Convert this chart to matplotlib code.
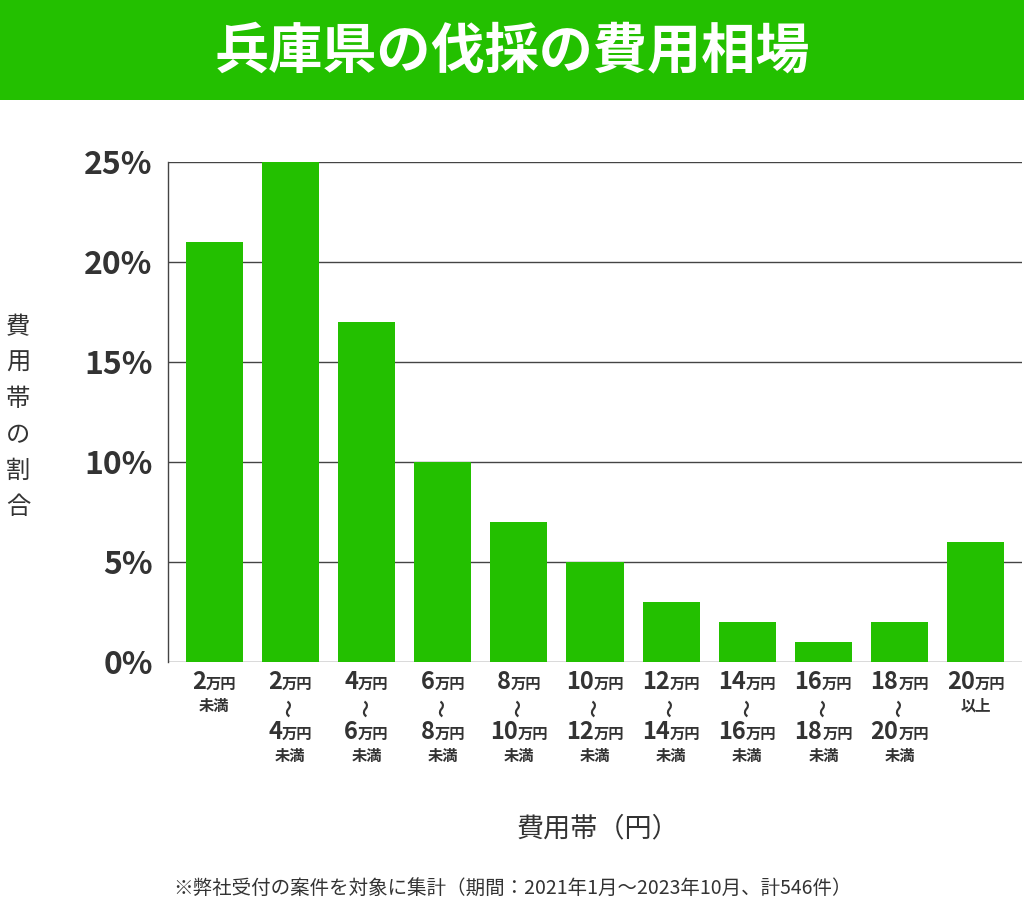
import matplotlib
matplotlib.use('Agg')
import matplotlib.pyplot as plt
from matplotlib.patches import Rectangle
from matplotlib.offsetbox import TextArea, HPacker, VPacker, AnnotationBbox

plt.rcParams['font.family'] = ['Noto Sans CJK JP', 'DejaVu Sans']

# データ
values = [21, 25, 17, 10, 7, 5, 3, 2, 1, 2, 6]
lo = ['2', '2', '4', '6', '8', '10', '12', '14', '16', '18', '20']
hi = [None, '4', '6', '8', '10', '12', '14', '16', '18', '20', None]
suffix = ['未満', '未満', '未満', '未満', '未満', '未満', '未満', '未満', '未満', '未満', '以上']
yticks = [0, 5, 10, 15, 20, 25]

green = '#23c000'
dark = '#333333'

fig = plt.figure(figsize=(10.24, 9.07), dpi=100)
fig.patches.append(Rectangle((0, 1 - 100/907), 1, 100/907, transform=fig.transFigure,
                             facecolor=green, edgecolor='none', zorder=0))
fig.text(0.5, 1 - 52/907, '兵庫県の伐採の費用相場', color='white', fontsize=39,
         fontweight='bold', ha='center', va='center')

ax = fig.add_axes([168/1024, 245/907, 854/1024, 500/907])
x = list(range(len(values)))
ax.bar(x, values, width=0.75, color=green, zorder=2)
ax.set_xlim(-0.605, len(values) - 1 + 0.605)
ax.set_ylim(0, 25)
ax.set_yticks(yticks)
ax.set_yticklabels([f'{v}%' for v in yticks], fontsize=23, fontweight='bold', color=dark)
ax.tick_params(axis='y', length=0, pad=11)
ax.tick_params(axis='x', length=0, labelbottom=False)
for v in yticks:
    ax.axhline(v, color='#444444', lw=1, zorder=1)
for s in ['top', 'right', 'bottom']:
    ax.spines[s].set_visible(False)
ax.spines['left'].set_color('#444444')
ax.spines['left'].set_linewidth(1)

big = dict(fontsize=17, fontweight='bold', color=dark)
small = dict(fontsize=11, fontweight='bold', color=dark)

def amount(n):
    return HPacker(children=[TextArea(n, textprops=big), TextArea('万円', textprops=small)],
                   align='baseline', pad=0, sep=0)

for i in x:
    rows = [amount(lo[i])]
    if hi[i] is not None:
        rows.append(TextArea('～', textprops=dict(fontsize=13, color=dark, fontweight='bold',
                                                  rotation=90)))
        rows.append(amount(hi[i]))
    rows.append(TextArea(suffix[i], textprops=small))
    box = VPacker(children=rows, align='center', pad=0, sep=2.5)
    ab = AnnotationBbox(box, (i, 0), xycoords=('data', 'axes fraction'),
                        xybox=(0, -6), boxcoords='offset points',
                        box_alignment=(0.5, 1), frameon=False)
    ax.add_artist(ab)

fig.text(18/1024, 1 - 417/907, '\n'.join('費用帯の割合'), fontsize=17.5, color=dark,
         ha='center', va='center', linespacing=1.5)
fig.text(598/1024, 1 - 829/907, '費用帯（円）', fontsize=19.5, color=dark,
         ha='center', va='center')
fig.text(512/1024, 1 - 888/907, '※弊社受付の案件を対象に集計（期間：2021年1月～2023年10月、計546件）',
         fontsize=14, color=dark, ha='center', va='center')

fig.savefig('out.png', dpi=100)
